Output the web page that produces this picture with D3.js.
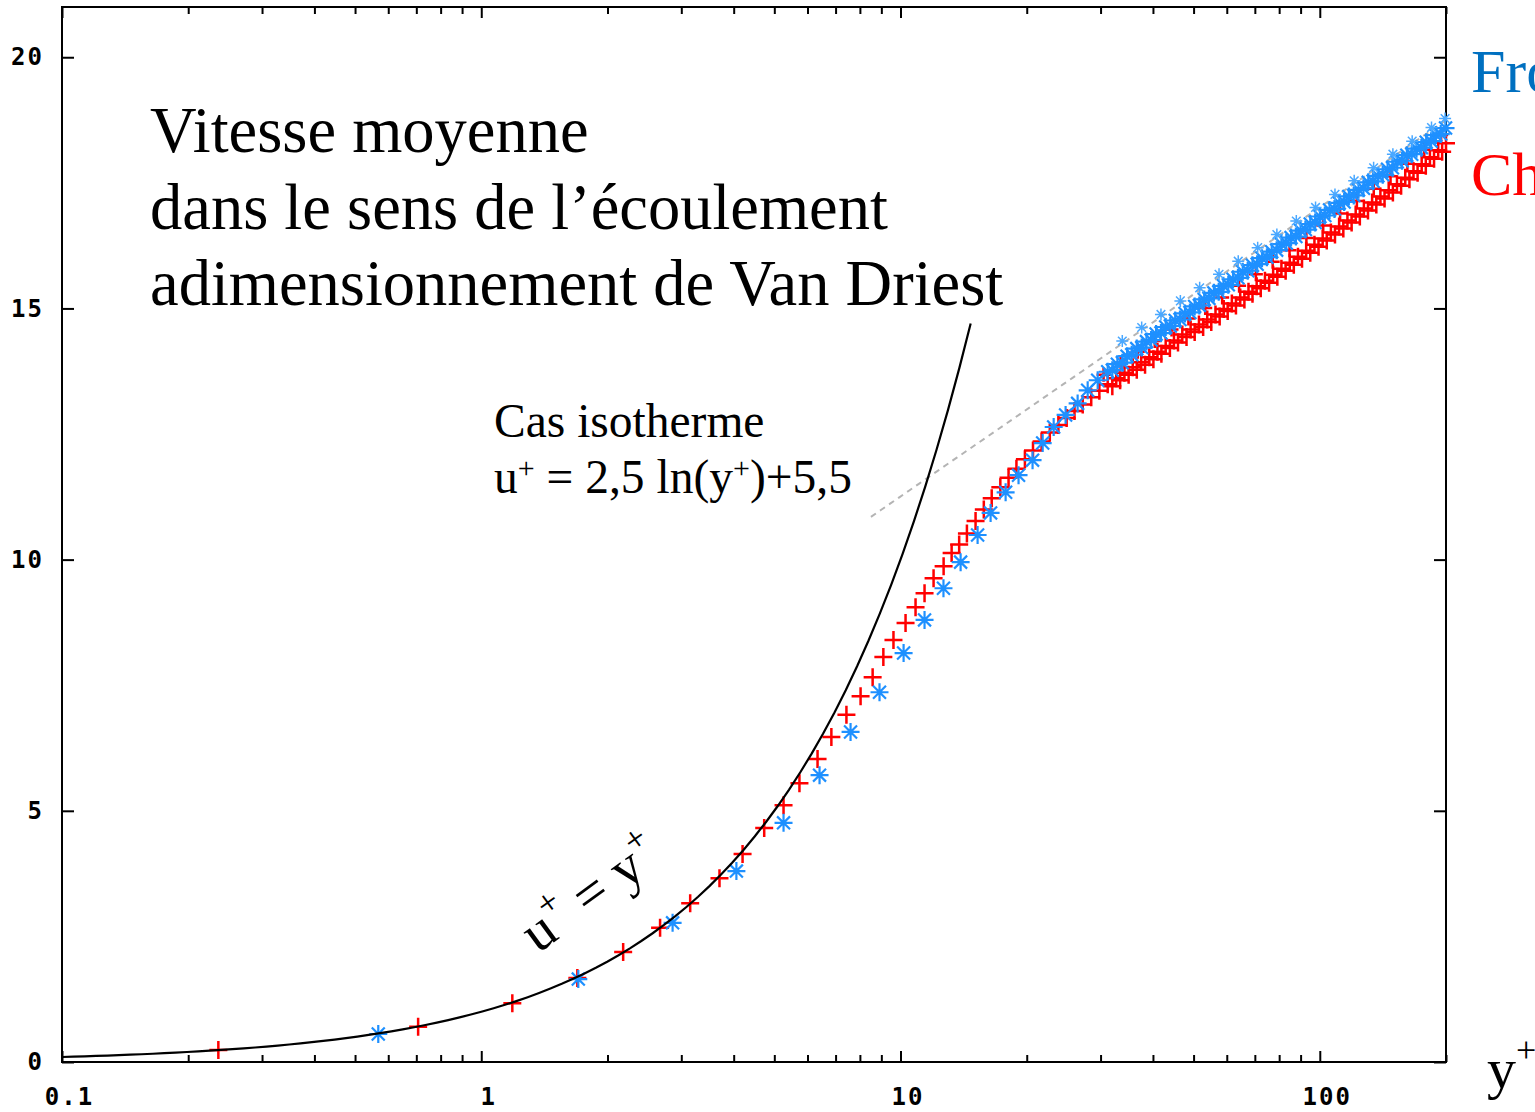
<!DOCTYPE html>
<html>
<head>
<meta charset="utf-8">
<title>Vitesse moyenne - Van Driest</title>
<style>
    body { margin: 0; background: #fff; }
    svg text { font-family: "Liberation Serif", "Times New Roman", serif; }
    g.axis text { font-family: "DejaVu Sans Mono", monospace; font-weight: bold; font-size: 24px; letter-spacing: 2px; fill: #000; }
    g.axis line { stroke: #000; stroke-width: 2; }
    rect.frame { fill: none; stroke: #000; stroke-width: 2; }
    path.law { fill: none; stroke: #000; stroke-width: 2.2; }
    path.loglaw { fill: none; stroke: #b4b4b4; stroke-width: 2; stroke-dasharray: 6,5; }
    g.chaud path { stroke: #ff0000; stroke-width: 2.5; fill: none; }
    g.froid path { stroke: #1e90ff; stroke-width: 2.2; fill: none; }
    g.froid.upper path { stroke: #4aa8ff; stroke-width: 1.5; }
</style>
</head>
<body>
<div id="target"></div>

<script src="https://cdnjs.cloudflare.com/ajax/libs/d3/7.8.5/d3.min.js"></script>
<script>
    // axes
    var xMajor = [0.1, 1, 10, 100];
    var xMinor = [0.2, 0.3, 0.4, 0.5, 0.6, 0.7, 0.8, 0.9, 2, 3, 4, 5, 6, 7, 8, 9, 20, 30, 40, 50, 60, 70, 80, 90, 200];
    var yMajor = [0, 5, 10, 15, 20];

    // "Chaud" (red +) : y+ and u+
    var chaudY = [0.236, 0.707, 1.186, 1.695, 2.18, 2.67, 3.15, 3.70, 4.20, 4.73, 5.26, 5.74, 6.34, 6.84, 7.43, 8.03, 8.58, 9.10, 9.62, 10.28,
        10.86, 11.41, 11.99, 12.67, 13.24, 13.8, 14.4, 15.1, 15.8, 16.5, 17.3, 18.1, 18.9, 19.8, 20.7, 21.7, 22.7, 23.8, 24.9, 26.0,
        27.2, 28.5, 29.8, 31.2, 32.7, 34.2, 35.8, 37.5, 39.2, 41.0, 42.9, 44.9, 47.0, 49.2, 51.5, 53.9, 56.4, 59.0, 61.7, 64.6,
        67.6, 70.7, 74.0, 77.4, 81.0, 84.8, 88.7, 92.8, 97.1, 101.6, 106.3, 111.2, 116.4, 121.8, 127.4, 133.3, 139.5, 146.0, 152.8, 159.9,
        167.3, 175.0, 183.1, 191.6, 200.0];
    var chaudU = [0.24, 0.70, 1.17, 1.67, 2.19, 2.67, 3.16, 3.66, 4.14, 4.66, 5.11, 5.55, 6.03, 6.47, 6.91, 7.28, 7.66, 8.06, 8.40, 8.74,
        9.05, 9.33, 9.63, 9.87, 10.13, 10.30, 10.52, 10.77, 11.00, 11.22, 11.44, 11.63, 11.81, 12.00, 12.17, 12.35, 12.53, 12.68, 12.82, 12.96,
        13.09, 13.23, 13.36, 13.49, 13.61, 13.72, 13.83, 13.93, 14.03, 14.14, 14.25, 14.36, 14.48, 14.58, 14.68, 14.78, 14.88, 14.99, 15.10, 15.22,
        15.33, 15.44, 15.55, 15.67, 15.79, 15.91, 16.03, 16.15, 16.27, 16.39, 16.51, 16.63, 16.75, 16.87, 16.99, 17.11, 17.23, 17.35, 17.47, 17.60,
        17.73, 17.87, 18.01, 18.15, 18.29];
    // second red set, dense part of the band
    var chaud3Y = [32.0, 33.4, 35.0, 36.6, 38.3, 40.1, 41.9, 43.9, 45.9, 48.1, 50.3, 52.7, 55.1, 57.7, 60.3, 63.1, 66.1, 69.1, 72.3, 75.7,
        79.2, 82.9, 86.7, 90.7, 94.9, 99.3, 103.9, 108.7, 113.8, 119.1, 124.6, 130.3, 136.4, 142.7, 149.4, 156.3, 163.6, 171.1, 179.0, 187.3, 195.8];
    var chaud3U = [13.45, 13.57, 13.68, 13.78, 13.88, 13.99, 14.10, 14.21, 14.32, 14.43, 14.53, 14.63, 14.73, 14.84, 14.95, 15.06, 15.18, 15.29, 15.40, 15.51,
        15.63, 15.75, 15.87, 15.99, 16.11, 16.23, 16.35, 16.47, 16.59, 16.71, 16.83, 16.95, 17.07, 17.19, 17.31, 17.44, 17.57, 17.70, 17.84, 17.98, 18.12];
    // upper red row in the log region
    var chaud2Y = [30.5, 33.5, 36.8, 40.4, 44.3, 48.6, 53.3, 58.5, 64.2, 70.4, 77.2, 84.7, 92.9, 101.9, 111.8, 122.6, 134.5, 147.5, 161.8, 177.5, 194.7];
    var chaud2U = [13.68, 13.92, 14.14, 14.35, 14.58, 14.80, 15.01, 15.22, 15.45, 15.68, 15.93, 16.16, 16.40, 16.65, 16.89, 17.14, 17.38, 17.63, 17.88, 18.16, 18.45];

    // "Froid" (blue *) : y+ and u+
    var froidY = [0.568, 1.704, 2.86, 4.06, 5.26, 6.41, 7.60, 8.91, 10.17, 11.41, 12.66, 13.91, 15.27, 16.40, 17.81, 19.12, 20.65, 21.83, 23.19, 24.76,
        26.45, 27.95, 29.53, 31.2, 32.9, 34.7, 36.6, 38.6, 40.7, 42.9, 45.2, 47.7, 50.3, 53.0, 55.9, 58.9, 62.1, 65.5, 69.1, 72.8,
        76.8, 81.0, 85.4, 90.0, 94.9, 100.1, 105.5, 111.3, 117.3, 123.7, 130.5, 137.6, 145.1, 153.0, 161.3, 170.1, 179.4, 189.2, 199.5];
    var froidU = [0.557, 1.65, 2.77, 3.80, 4.76, 5.71, 6.57, 7.36, 8.14, 8.80, 9.43, 9.95, 10.49, 10.93, 11.34, 11.68, 11.98, 12.32, 12.64, 12.88,
        13.11, 13.37, 13.57, 13.74, 13.89, 14.05, 14.20, 14.34, 14.49, 14.63, 14.76, 14.90, 15.04, 15.18, 15.31, 15.45, 15.58, 15.73, 15.86, 16.00,
        16.13, 16.28, 16.41, 16.55, 16.68, 16.83, 16.96, 17.10, 17.23, 17.36, 17.51, 17.64, 17.77, 17.92, 18.05, 18.18, 18.31, 18.45, 18.59];
    // second blue set, dense part of the band
    var froid3Y = [32.0, 33.8, 35.6, 37.6, 39.6, 41.8, 44.0, 46.4, 49.0, 51.6, 54.4, 57.4, 60.5, 63.8, 67.3, 70.9, 74.8, 78.9, 83.2, 87.7,
        92.4, 97.5, 102.8, 108.4, 114.3, 120.5, 127.1, 134.0, 141.3, 149.0, 157.1, 165.7, 174.7, 184.3, 194.3];
    var froid3U = [13.77, 13.92, 14.08, 14.22, 14.37, 14.51, 14.65, 14.78, 14.92, 15.06, 15.20, 15.33, 15.47, 15.61, 15.75, 15.88, 16.02, 16.16, 16.30, 16.43,
        16.57, 16.71, 16.85, 16.98, 17.12, 17.25, 17.39, 17.53, 17.66, 17.80, 17.94, 18.07, 18.20, 18.33, 18.47];
    // upper blue row
    var froid2Y = [33.8, 37.6, 41.8, 46.5, 51.7, 57.5, 63.9, 71.1, 79.0, 87.9, 97.7, 108.7, 120.8, 134.4, 149.4, 166.1, 184.7, 199.0];
    var froid2U = [14.35, 14.62, 14.88, 15.15, 15.41, 15.68, 15.94, 16.21, 16.47, 16.74, 17.01, 17.27, 17.54, 17.80, 18.07, 18.33, 18.60, 18.78];

    // reference laws
    var linearLaw = [0.1, 14.7];      // u+ = y+
    var logLaw = [8.5, 200];          // u+ = 2,5 ln(y+) + 5,5

    var titleLines = ['Vitesse moyenne', 'dans le sens de l’écoulement', 'adimensionnement de Van Driest'];

    var width = 1535, height = 1112;
    var svg = d3.select('#target').append('svg')
            .attr('width', width)
            .attr('height', height);

    var x = d3.scaleLog().domain([0.1, 200]).range([62, 1446]);
    var y = d3.scaleLinear().domain([0, 21]).range([1062, 7]);

    //axes, ticks pointing inwards
    var gx = svg.append('g').attr('class', 'axis').attr('transform', 'translate(0,1062)')
            .call(d3.axisBottom(x).tickValues(xMajor).tickSize(-11).tickPadding(26)
                .tickFormat(function (d) { return d < 1 ? '0.1' : String(d); }));
    gx.selectAll('text').attr('dx', 7);
    svg.append('g').attr('class', 'axis').attr('transform', 'translate(0,1062)')
            .call(d3.axisBottom(x).tickValues(xMinor).tickSize(-7).tickFormat(''));
    svg.append('g').attr('class', 'axis').attr('transform', 'translate(0,7)')
            .call(d3.axisTop(x).tickValues(xMajor).tickSize(-11).tickFormat(''));
    svg.append('g').attr('class', 'axis').attr('transform', 'translate(0,7)')
            .call(d3.axisTop(x).tickValues(xMinor).tickSize(-7).tickFormat(''));
    svg.append('g').attr('class', 'axis').attr('transform', 'translate(62,0)')
            .call(d3.axisLeft(y).tickValues(yMajor).tickSize(-12).tickPadding(18));
    svg.append('g').attr('class', 'axis').attr('transform', 'translate(1446,0)')
            .call(d3.axisRight(y).tickValues(yMajor).tickSize(-12).tickFormat(''));
    svg.selectAll('g.axis path.domain').remove();

    svg.append('rect').attr('class', 'frame')
            .attr('x', x(0.1)).attr('y', y(21))
            .attr('width', x(200) - x(0.1)).attr('height', y(0) - y(21));

    //log law (dashed grey)
    var logPts = d3.range(0, 61).map(function (i) {
        var yp = logLaw[0] * Math.pow(logLaw[1] / logLaw[0], i / 60);
        return [yp, 2.5 * Math.log(yp) + 5.5];
    });
    var line = d3.line().x(function (d) { return x(d[0]); }).y(function (d) { return y(d[1]); });
    svg.append('path').attr('class', 'loglaw').attr('d', line(logPts));

    //markers
    var plus = function (s) {
        return 'M' + (-s) + ',0H' + s + 'M0,' + (-s) + 'V' + s;
    };
    var star = function (s) {
        var k = s * 0.72;
        return plus(s) + 'M' + (-k) + ',' + (-k) + 'L' + k + ',' + k + 'M' + (-k) + ',' + k + 'L' + k + ',' + (-k);
    };
    var zip = function (a, b) { return a.map(function (v, i) { return [v, b[i]]; }); };

    function plotPoints(cls, xs, us, shape) {
        svg.append('g').attr('class', cls)
            .selectAll('path')
            .data(zip(xs, us))
            .enter()
            .append('path')
            .attr('transform', function (d) { return 'translate(' + x(d[0]) + ',' + y(d[1]) + ')'; })
            .attr('d', shape);
    }
    plotPoints('chaud', chaudY, chaudU, plus(9));
    plotPoints('chaud', chaud3Y, chaud3U, plus(9));
    plotPoints('chaud upper', chaud2Y, chaud2U, plus(7));
    plotPoints('froid', froidY, froidU, star(9));
    plotPoints('froid', froid3Y, froid3U, star(9));
    plotPoints('froid upper', froid2Y, froid2U, star(6));

    //u+ = y+
    var linPts = d3.range(0, 81).map(function (i) {
        var yp = linearLaw[0] * Math.pow(linearLaw[1] / linearLaw[0], i / 80);
        return [yp, yp];
    });
    svg.append('path').attr('class', 'law').attr('d', line(linPts));

    //texts
    svg.append('g').selectAll('text')
            .data(titleLines)
            .enter()
            .append('text')
            .attr('x', 150)
            .attr('y', function (d, i) { return 152 + i * 76.5; })
            .style('font-size', '64.5px')
            .text(function (d) { return d; });

    var iso = svg.append('g').style('font-size', '47.5px');
    iso.append('text').attr('x', 494).attr('y', 437).text('Cas isotherme');
    var eq = iso.append('text').attr('x', 494).attr('y', 493);
    eq.append('tspan').text('u');
    eq.append('tspan').attr('dy', -15).style('font-size', '30px').text('+');
    eq.append('tspan').attr('dy', 15).text(' = 2,5 ln(y');
    eq.append('tspan').attr('dy', -15).style('font-size', '30px').text('+');
    eq.append('tspan').attr('dy', 15).text(')+5,5');

    var lin = svg.append('text')
            .attr('transform', 'translate(538,954) rotate(-36)')
            .style('font-size', '56px');
    lin.append('tspan').text('u');
    lin.append('tspan').attr('dy', -24).style('font-size', '36px').text('+');
    lin.append('tspan').attr('dy', 24).text(' = y');
    lin.append('tspan').attr('dy', -24).style('font-size', '36px').text('+');

    svg.append('text').attr('x', 1471).attr('y', 92).style('font-size', '62px').style('fill', '#0070c0').text('Froid');
    svg.append('text').attr('x', 1471).attr('y', 195).style('font-size', '62px').style('fill', '#ff0000').text('Chaud');

    var yl = svg.append('text').attr('x', 1487).attr('y', 1088).style('font-size', '58px');
    yl.append('tspan').text('y');
    yl.append('tspan').attr('dy', -26).style('font-size', '36px').text('+');
</script>

</body>
</html>
